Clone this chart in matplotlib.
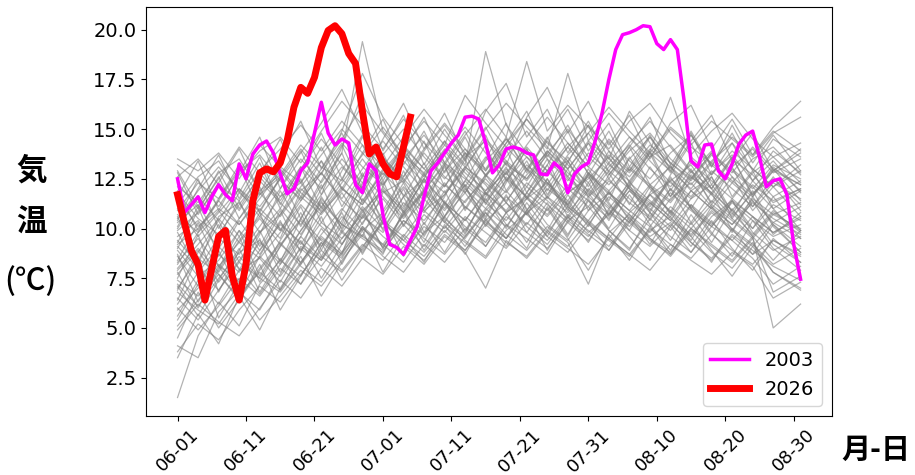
import numpy as np
import matplotlib.pyplot as plt

plt.rcParams['font.family'] = ['DejaVu Sans', 'Noto Sans CJK JP']

# day offsets from 06-01 (06-01 .. 08-31)
days = np.arange(92)
gray_days = list(range(0, 90, 3)) + [91]
tick_days = list(range(0, 91, 10))
tick_labels = ['06-01', '06-11', '06-21', '07-01', '07-11',
               '07-21', '07-31', '08-10', '08-20', '08-30']

# past years (read coarsely, every 3 days)
past_years = [
    [7.2, 6.1, 7.5, 8.8, 9.4, 8.2, 9.9, 11.5, 10.2, 9.6, 11.8, 12.4, 10.9, 11.7, 13.1, 12.2, 10.8, 11.5, 12.9, 13.4, 11.6, 10.7, 12.1, 11.3, 10.4, 11.9, 12.6, 10.8, 9.7, 10.9, 9.8],
    [10.3, 11.2, 9.5, 8.7, 10.1, 11.6, 12.3, 10.8, 11.9, 13.5, 12.1, 11.0, 12.7, 13.9, 12.6, 11.4, 12.8, 14.1, 12.9, 11.8, 12.5, 13.6, 12.0, 11.1, 12.4, 13.2, 11.7, 10.6, 11.8, 12.5, 11.2],
    [5.6, 7.4, 6.2, 7.9, 8.5, 7.3, 9.1, 8.4, 10.2, 9.5, 8.8, 10.4, 9.7, 11.2, 10.1, 9.3, 10.8, 11.6, 10.2, 9.4, 10.9, 11.8, 10.5, 9.6, 10.3, 9.1, 10.6, 11.4, 9.8, 8.9, 9.6],
    [12.1, 11.3, 12.8, 13.5, 11.9, 12.7, 14.2, 13.1, 12.4, 14.6, 13.2, 12.3, 13.8, 12.6, 11.8, 13.4, 14.5, 13.0, 12.2, 13.7, 14.8, 13.3, 12.1, 13.6, 14.2, 12.9, 12.0, 13.5, 12.7, 11.6, 12.4],
    [1.5, 4.6, 6.3, 5.1, 7.2, 8.4, 7.6, 9.3, 8.5, 10.1, 9.2, 8.3, 9.8, 10.6, 9.4, 8.6, 10.2, 9.5, 8.7, 10.4, 11.1, 9.9, 9.0, 10.5, 9.6, 8.8, 10.1, 9.4, 8.5, 7.2, 8.1],
    [9.4, 8.2, 10.6, 11.3, 9.8, 10.7, 12.1, 13.4, 12.0, 11.2, 12.9, 14.1, 13.0, 12.1, 13.6, 14.4, 13.2, 12.5, 13.9, 12.8, 11.9, 13.3, 14.6, 13.4, 12.3, 11.5, 12.8, 13.7, 12.4, 11.3, 12.0],
    [6.8, 5.9, 5.2, 6.7, 7.8, 6.9, 8.3, 9.6, 8.7, 10.3, 11.5, 10.2, 9.1, 10.6, 11.8, 10.4, 9.5, 10.9, 12.2, 11.0, 9.8, 10.7, 11.9, 10.8, 9.9, 11.2, 10.3, 9.4, 10.6, 9.2, 8.3],
    [11.2, 12.6, 13.4, 11.8, 10.9, 12.5, 11.4, 12.8, 14.3, 13.1, 12.2, 13.5, 14.7, 13.3, 12.5, 11.7, 13.0, 12.1, 13.8, 15.0, 13.6, 12.7, 13.9, 14.8, 13.5, 12.6, 11.8, 13.1, 14.0, 12.8, 13.5],
    [8.3, 9.5, 8.1, 7.4, 8.9, 10.2, 9.3, 8.4, 9.8, 11.1, 10.0, 11.6, 12.5, 11.3, 10.4, 11.9, 12.8, 11.5, 10.6, 11.8, 12.6, 11.2, 10.3, 11.7, 12.4, 11.0, 10.1, 11.3, 10.4, 9.6, 10.2],
    [4.1, 3.5, 5.8, 6.9, 5.4, 6.6, 7.9, 7.1, 8.4, 9.7, 8.6, 7.8, 9.2, 8.3, 9.6, 10.8, 9.7, 8.9, 10.1, 9.3, 7.2, 9.8, 10.7, 9.5, 8.6, 9.9, 8.8, 8.0, 9.3, 7.8, 6.9],
    [10.7, 9.8, 11.4, 12.9, 13.7, 12.4, 11.5, 13.0, 14.5, 16.2, 14.8, 13.4, 12.3, 13.9, 15.1, 13.8, 12.7, 14.2, 15.6, 14.3, 13.1, 14.5, 13.4, 12.5, 13.8, 14.7, 13.2, 12.3, 13.5, 14.1, 12.7],
    [7.7, 8.9, 7.3, 8.6, 7.5, 9.1, 10.5, 9.4, 8.6, 10.0, 9.2, 10.7, 11.8, 10.5, 9.6, 11.0, 10.1, 11.5, 12.3, 11.1, 10.2, 11.6, 10.7, 9.8, 11.1, 10.2, 11.4, 10.5, 9.6, 10.8, 9.9],
    [13.2, 12.4, 11.1, 12.7, 13.9, 14.6, 13.3, 14.9, 16.4, 15.2, 14.0, 15.5, 14.3, 13.2, 14.7, 16.0, 14.6, 18.4, 14.9, 16.2, 15.1, 14.0, 15.4, 16.3, 14.8, 13.7, 14.9, 15.8, 14.5, 13.6, 14.3],
    [6.2, 7.8, 9.1, 8.0, 6.7, 8.2, 9.6, 8.5, 9.9, 8.8, 10.3, 9.4, 8.6, 9.9, 8.9, 10.4, 11.3, 10.1, 9.2, 10.6, 9.7, 8.9, 10.3, 9.4, 8.7, 10.0, 9.1, 8.3, 9.5, 6.8, 7.6],
    [9.9, 10.8, 12.2, 10.9, 12.4, 11.3, 10.2, 11.7, 13.1, 12.0, 13.4, 12.5, 11.4, 12.9, 14.0, 12.7, 13.6, 14.9, 13.5, 12.4, 13.8, 12.9, 14.3, 15.4, 14.1, 12.8, 13.9, 12.6, 11.7, 12.9, 13.8],
    [3.8, 5.2, 4.4, 5.9, 7.1, 6.3, 7.7, 8.9, 7.9, 9.2, 8.4, 9.7, 8.8, 10.1, 9.3, 8.5, 9.9, 10.8, 9.6, 8.8, 10.2, 9.4, 8.6, 9.9, 10.6, 9.3, 8.5, 9.7, 8.9, 8.1, 7.4],
    [11.8, 10.5, 9.7, 11.2, 12.6, 11.4, 13.0, 14.5, 13.2, 12.0, 13.6, 12.4, 13.9, 15.2, 13.8, 12.7, 14.1, 13.0, 14.4, 13.2, 12.3, 13.7, 12.8, 14.0, 13.1, 12.2, 13.4, 14.3, 13.0, 12.1, 12.9],
    [8.9, 7.6, 8.4, 9.9, 8.7, 10.3, 9.2, 10.8, 12.1, 10.9, 11.9, 10.6, 12.0, 11.0, 12.4, 11.3, 10.4, 11.8, 10.9, 12.2, 11.4, 10.5, 11.9, 11.0, 10.1, 11.5, 12.2, 10.9, 10.0, 11.2, 10.4],
    [5.1, 6.4, 7.7, 6.5, 8.0, 9.3, 8.1, 7.3, 8.8, 10.0, 9.1, 10.4, 9.5, 8.7, 10.0, 9.1, 10.6, 9.8, 9.0, 10.3, 9.4, 10.8, 9.9, 9.1, 10.2, 9.3, 8.4, 9.6, 8.7, 9.4, 8.6],
    [12.6, 13.5, 12.2, 11.4, 12.9, 14.0, 15.2, 13.9, 15.4, 14.2, 13.1, 14.6, 16.0, 14.7, 13.5, 15.0, 16.3, 15.1, 14.0, 17.8, 14.4, 15.8, 14.6, 13.6, 15.0, 14.1, 13.3, 14.6, 13.7, 14.9, 13.9],
    [7.4, 6.6, 8.1, 9.3, 10.5, 9.2, 8.3, 9.7, 11.0, 9.9, 10.8, 12.1, 10.9, 10.0, 11.4, 12.5, 11.3, 10.2, 11.6, 10.8, 12.0, 11.1, 10.3, 11.7, 10.9, 10.0, 11.2, 10.4, 9.5, 10.7, 11.3],
    [9.1, 8.0, 6.9, 8.4, 9.8, 11.0, 9.7, 11.3, 10.2, 12.7, 11.6, 10.5, 11.9, 13.2, 12.0, 11.0, 12.4, 13.6, 12.3, 11.2, 12.7, 11.8, 10.9, 12.2, 13.1, 11.9, 11.0, 12.3, 11.4, 10.3, 11.1],
    [10.0, 11.6, 10.4, 12.0, 10.8, 9.9, 11.4, 12.8, 11.5, 13.0, 14.4, 13.1, 11.9, 13.3, 12.1, 13.6, 12.5, 11.6, 12.9, 14.1, 12.8, 11.7, 13.0, 12.1, 11.3, 12.6, 11.7, 13.0, 12.1, 11.0, 11.9],
    [4.9, 6.2, 5.3, 4.6, 6.0, 7.4, 6.5, 8.0, 7.1, 8.5, 7.7, 9.1, 8.2, 9.6, 8.8, 7.0, 9.4, 8.5, 9.8, 9.0, 8.2, 9.5, 8.7, 7.9, 9.2, 8.4, 7.7, 8.8, 8.1, 6.5, 7.3],
    [11.5, 10.1, 11.0, 10.2, 11.7, 13.0, 11.8, 10.9, 12.3, 13.7, 15.1, 13.7, 12.6, 14.0, 12.8, 11.9, 13.3, 12.4, 13.7, 12.6, 11.7, 13.1, 14.2, 13.0, 12.1, 13.3, 12.4, 11.5, 12.8, 13.6, 12.3],
    [8.0, 9.2, 10.5, 9.3, 8.5, 9.8, 11.2, 10.1, 9.2, 10.6, 9.8, 11.3, 10.4, 11.7, 13.0, 11.8, 10.8, 12.1, 11.2, 10.3, 11.6, 12.5, 11.3, 10.5, 11.8, 10.9, 10.1, 11.4, 10.6, 9.8, 10.5],
    [6.5, 5.4, 6.9, 8.3, 7.5, 6.8, 8.2, 9.5, 8.7, 11.5, 10.3, 9.4, 10.7, 9.8, 11.1, 10.3, 9.5, 10.8, 11.6, 10.4, 9.6, 10.9, 10.1, 11.3, 10.4, 9.6, 10.8, 9.9, 9.1, 10.3, 9.5],
    [13.5, 12.9, 13.8, 12.5, 14.2, 13.1, 12.3, 13.7, 15.0, 13.8, 12.7, 14.1, 15.4, 14.2, 16.7, 15.3, 14.1, 15.5, 14.3, 13.4, 14.8, 16.1, 14.9, 13.8, 15.1, 14.2, 15.4, 14.5, 13.6, 14.8, 15.6],
    [9.6, 10.4, 9.0, 10.5, 11.8, 10.6, 12.0, 11.1, 12.5, 11.4, 12.8, 11.7, 10.8, 12.2, 11.3, 12.7, 11.8, 13.2, 12.3, 11.4, 12.8, 11.9, 13.1, 12.2, 11.4, 12.7, 11.8, 10.9, 12.2, 11.4, 12.0],
    [7.0, 8.5, 7.7, 6.4, 7.9, 9.2, 10.4, 9.1, 10.6, 9.6, 8.9, 10.2, 11.5, 10.3, 9.5, 10.9, 11.9, 10.7, 9.8, 11.1, 10.3, 9.5, 10.8, 11.7, 10.5, 9.7, 10.9, 10.0, 9.2, 8.2, 9.0],
    [10.9, 12.3, 11.5, 13.0, 11.7, 12.6, 14.0, 12.7, 14.9, 17.8, 15.6, 14.2, 13.0, 14.4, 13.2, 18.9, 15.2, 13.8, 12.9, 14.3, 13.1, 12.2, 13.5, 14.6, 13.3, 12.4, 13.7, 12.8, 14.1, 13.0, 12.2],
    [8.6, 7.1, 8.7, 7.8, 9.3, 8.4, 9.9, 11.1, 9.8, 8.9, 10.4, 9.6, 11.0, 12.3, 11.1, 10.2, 11.6, 10.7, 12.0, 11.2, 10.4, 11.8, 10.9, 10.1, 11.5, 12.3, 11.1, 10.2, 11.3, 10.5, 9.7],
    [12.3, 11.0, 12.5, 14.1, 12.8, 11.6, 13.1, 12.0, 13.5, 12.3, 13.7, 15.0, 13.6, 12.5, 13.8, 12.9, 14.3, 15.5, 14.1, 13.0, 14.4, 13.5, 12.6, 13.9, 16.6, 13.6, 12.7, 13.9, 13.0, 12.1, 13.2],
    [5.9, 7.0, 8.2, 7.3, 8.6, 7.6, 9.0, 8.1, 9.5, 10.7, 9.6, 8.8, 10.1, 9.3, 10.6, 9.8, 9.0, 10.3, 9.4, 10.7, 9.9, 9.1, 10.4, 9.5, 8.8, 10.0, 9.2, 8.4, 9.6, 5.0, 6.2],
    [9.2, 10.0, 11.4, 10.2, 11.5, 12.9, 11.6, 10.7, 12.0, 11.2, 12.6, 13.9, 12.7, 11.8, 13.1, 12.3, 11.4, 12.7, 13.8, 12.5, 11.6, 12.9, 12.0, 11.2, 12.5, 11.6, 12.9, 12.0, 11.1, 12.3, 11.5],
    [7.9, 9.0, 7.8, 9.4, 10.6, 9.5, 11.9, 12.8, 11.4, 10.5, 11.9, 10.9, 12.4, 11.3, 10.4, 11.8, 10.9, 12.3, 11.4, 10.5, 11.9, 11.0, 12.3, 11.4, 10.6, 11.9, 11.0, 10.2, 11.5, 10.7, 10.0],
    [11.0, 9.6, 10.8, 12.0, 11.1, 12.5, 13.8, 15.3, 17.0, 14.8, 13.5, 12.6, 14.0, 15.3, 14.0, 13.0, 14.5, 13.6, 12.7, 14.1, 15.2, 13.9, 12.9, 14.2, 13.3, 12.5, 13.8, 12.9, 12.0, 13.2, 12.5],
    [6.0, 4.9, 6.1, 7.5, 6.6, 8.0, 7.2, 8.6, 7.8, 9.1, 10.3, 9.2, 8.4, 9.7, 8.9, 10.2, 9.3, 8.6, 9.9, 9.1, 10.4, 9.5, 8.7, 10.0, 9.2, 8.5, 9.7, 8.9, 8.2, 9.4, 8.7],
    [10.5, 11.9, 13.1, 11.9, 10.6, 12.0, 13.5, 12.3, 13.8, 19.4, 14.9, 13.7, 12.8, 14.2, 13.1, 14.5, 13.4, 12.5, 13.9, 13.0, 14.3, 13.2, 12.4, 13.8, 12.9, 12.0, 13.3, 12.4, 11.6, 12.9, 12.2],
    [8.2, 9.8, 10.9, 9.6, 11.0, 10.0, 8.9, 10.3, 9.5, 10.8, 12.0, 10.8, 11.9, 10.9, 12.2, 11.3, 12.6, 11.6, 10.7, 12.0, 11.1, 12.4, 11.5, 10.6, 12.0, 11.1, 10.2, 11.5, 10.6, 9.8, 10.6],
    [9.8, 7.9, 9.6, 11.4, 9.1, 10.9, 8.8, 11.6, 10.0, 12.3, 10.4, 12.9, 11.0, 13.2, 10.9, 12.6, 14.0, 11.8, 13.5, 11.2, 13.0, 11.4, 13.6, 12.0, 10.8, 12.9, 11.3, 13.1, 11.1, 12.6, 10.9],
    [7.5, 9.7, 6.8, 8.9, 10.8, 8.3, 10.5, 12.2, 9.9, 11.7, 13.6, 11.1, 12.8, 10.6, 12.4, 14.2, 11.9, 13.4, 11.5, 13.0, 10.9, 12.7, 14.1, 12.2, 10.7, 12.5, 13.8, 11.6, 12.9, 11.0, 9.5],
    [10.6, 8.4, 10.2, 7.9, 9.7, 11.9, 10.1, 12.0, 13.8, 11.3, 13.0, 10.8, 12.5, 14.4, 12.1, 10.5, 12.3, 14.0, 11.7, 13.3, 15.2, 12.8, 11.2, 13.1, 11.6, 13.5, 12.0, 10.7, 12.4, 13.4, 11.8],
    [6.4, 8.6, 5.5, 7.3, 9.5, 6.9, 8.8, 10.6, 8.2, 10.1, 8.7, 10.9, 9.3, 11.4, 9.7, 11.8, 10.2, 9.0, 11.1, 9.6, 11.5, 9.9, 8.9, 10.8, 9.4, 11.2, 9.8, 8.6, 10.4, 9.0, 7.9],
    [11.6, 13.4, 10.9, 12.8, 14.6, 12.0, 13.9, 11.7, 14.1, 16.8, 13.9, 15.7, 13.2, 15.0, 13.4, 15.9, 17.3, 14.6, 16.0, 13.8, 15.4, 13.5, 15.9, 14.3, 12.8, 14.9, 13.1, 15.2, 13.3, 14.7, 12.9],
    [8.7, 6.3, 8.0, 9.9, 7.6, 9.4, 11.1, 8.9, 10.9, 12.6, 10.2, 12.0, 9.8, 11.6, 13.5, 11.2, 12.9, 10.7, 12.5, 10.9, 12.8, 11.3, 9.9, 11.8, 13.2, 11.0, 12.6, 10.5, 11.9, 10.1, 8.8],
    [3.5, 5.7, 4.2, 6.6, 4.9, 7.0, 8.6, 6.6, 8.3, 9.9, 7.8, 9.6, 8.3, 10.2, 8.7, 10.5, 9.1, 10.9, 8.9, 10.6, 9.3, 11.0, 9.6, 8.4, 10.1, 8.8, 10.4, 9.0, 7.9, 9.5, 8.3],
    [12.8, 10.7, 12.3, 14.0, 11.8, 13.6, 15.4, 13.0, 14.8, 12.6, 14.5, 16.3, 14.0, 15.8, 13.6, 15.1, 13.2, 15.6, 17.1, 14.8, 16.4, 14.2, 15.7, 13.5, 15.3, 16.2, 14.0, 15.5, 13.7, 15.1, 16.4],
    [9.3, 11.1, 8.6, 10.4, 8.9, 10.7, 12.5, 10.3, 11.8, 10.2, 12.1, 13.9, 11.5, 13.1, 11.0, 12.7, 11.3, 13.0, 11.6, 13.4, 11.8, 10.4, 12.2, 13.8, 11.6, 13.0, 11.2, 12.6, 10.9, 12.1, 10.6],
    [5.4, 7.2, 8.9, 6.8, 5.9, 7.7, 9.4, 7.5, 9.2, 11.0, 9.0, 10.8, 8.9, 10.6, 12.2, 10.1, 11.7, 9.8, 11.3, 9.7, 11.4, 10.0, 11.7, 10.2, 8.9, 10.7, 9.3, 11.0, 9.6, 8.4, 9.9],
    [10.1, 12.0, 13.7, 11.5, 13.3, 11.0, 12.9, 14.8, 12.5, 14.2, 12.2, 13.9, 15.6, 13.3, 14.9, 12.9, 14.6, 12.8, 14.5, 16.0, 13.9, 15.3, 13.1, 14.7, 12.9, 14.4, 15.7, 13.4, 14.8, 12.9, 14.0],
    [7.1, 5.6, 7.4, 9.0, 6.8, 8.5, 7.2, 9.1, 10.8, 8.7, 10.5, 12.3, 10.2, 11.9, 9.9, 11.5, 10.0, 11.8, 13.2, 11.1, 12.7, 10.6, 12.2, 10.4, 12.0, 10.3, 11.8, 9.9, 11.4, 9.7, 10.8],
    [11.9, 9.9, 11.5, 13.2, 10.8, 12.6, 10.5, 12.4, 14.2, 12.0, 13.8, 11.6, 13.3, 11.2, 13.0, 14.7, 12.4, 14.0, 11.9, 13.6, 12.1, 13.9, 12.0, 10.9, 12.7, 14.3, 12.2, 13.6, 11.7, 13.0, 11.4],
    [8.4, 10.3, 8.1, 6.7, 8.6, 10.4, 8.2, 10.0, 8.8, 10.6, 12.4, 10.1, 11.9, 10.3, 12.0, 10.6, 12.5, 11.0, 9.6, 11.4, 10.1, 11.9, 10.4, 12.1, 10.8, 9.4, 11.1, 9.8, 11.6, 10.2, 9.1],
    [6.9, 8.8, 10.4, 8.3, 9.9, 7.8, 9.6, 11.4, 9.2, 10.9, 9.0, 10.7, 12.5, 10.4, 9.1, 10.8, 9.5, 11.3, 9.9, 11.7, 10.3, 8.9, 10.6, 9.2, 10.9, 9.6, 8.3, 10.0, 8.7, 10.2, 8.8],
    [10.4, 12.5, 10.0, 11.8, 13.6, 11.2, 13.1, 11.0, 12.9, 14.7, 12.4, 14.2, 12.0, 13.7, 11.8, 13.5, 15.3, 12.9, 14.6, 12.6, 14.3, 12.5, 14.1, 15.6, 13.2, 14.8, 12.7, 14.3, 12.4, 13.9, 12.8],
    [4.5, 6.8, 5.0, 6.4, 8.2, 5.9, 7.6, 9.3, 7.4, 9.0, 10.7, 8.6, 10.3, 8.8, 10.5, 9.1, 10.8, 9.3, 11.0, 9.5, 7.9, 9.7, 8.4, 10.1, 8.7, 10.3, 8.9, 7.6, 9.1, 7.8, 7.0],
    [9.0, 10.9, 12.6, 10.5, 12.1, 9.9, 11.6, 13.4, 11.1, 12.8, 10.9, 12.6, 14.4, 12.1, 13.8, 11.7, 13.4, 11.5, 13.2, 14.9, 12.7, 14.4, 12.3, 13.9, 11.9, 13.5, 12.0, 13.6, 11.6, 13.1, 11.9],
    [7.8, 6.0, 7.9, 9.6, 7.3, 9.1, 10.8, 8.6, 10.4, 12.1, 9.9, 11.6, 9.6, 11.3, 9.8, 11.6, 13.1, 10.9, 12.5, 10.6, 12.3, 10.7, 12.4, 10.8, 12.6, 11.0, 9.7, 11.4, 10.0, 11.6, 9.9],
    [12.9, 11.1, 12.9, 11.0, 12.7, 14.5, 12.3, 14.1, 12.0, 13.8, 15.5, 13.2, 14.9, 12.8, 14.6, 12.6, 14.3, 15.9, 13.6, 15.2, 13.3, 14.9, 12.9, 14.6, 13.0, 14.7, 13.1, 14.8, 12.9, 14.5, 13.6],
]

temp_2003 = [12.5, 10.8, 11.2, 11.6, 10.8, 11.6, 12.2, 11.7, 11.4, 13.25,
             12.5, 13.75, 14.2, 14.4, 13.8, 12.75, 11.75, 12.0, 12.9, 13.3,
             14.8, 16.35, 14.8, 14.2, 14.5, 14.3, 12.2, 11.8, 13.25, 12.9,
             10.7, 9.2, 9.05, 8.7, 9.4, 10.1, 11.6, 12.9, 13.3, 13.8,
             14.3, 14.7, 15.6, 15.65, 15.5, 14.3, 12.8, 13.2, 14.0, 14.1,
             14.0, 13.8, 13.7, 12.75, 12.7, 13.3, 13.0, 11.8, 12.75, 13.1,
             13.3, 14.4, 15.8, 17.5, 19.0, 19.75, 19.85, 20.0, 20.2, 20.15,
             19.3, 19.0, 19.5, 19.0, 16.4, 13.4, 13.1, 14.2, 14.25, 12.9,
             12.5, 13.25, 14.25, 14.7, 14.9, 13.6, 12.1, 12.4, 12.5, 11.7,
             9.2, 7.45]

temp_2026 = [11.7, 10.3, 8.9, 8.2, 6.4, 8.0, 9.6, 9.9, 7.6, 6.4,
             8.2, 11.4, 12.8, 13.0, 12.85, 13.3, 14.4, 16.1, 17.1, 16.8,
             17.6, 19.1, 19.96, 20.2, 19.8, 18.8, 18.3, 15.9, 13.75, 14.1,
             13.25, 12.75, 12.6, 14.1, 15.6]

fig, ax = plt.subplots(figsize=(9.15, 4.75), dpi=100)
fig.subplots_adjust(left=0.160, right=0.909, bottom=0.124, top=0.985)

for yr in past_years:
    ax.plot(gray_days, yr, color='gray', lw=0.9, alpha=0.6)

ax.plot(days, temp_2003, color='magenta', lw=2.5, label='2003')
ax.plot(days[:len(temp_2026)], temp_2026, color='red', lw=5, label='2026')

ax.set_xticks(tick_days)
ax.set_xticklabels(tick_labels, rotation=45)
ax.tick_params(axis='y', labelsize=14)
ax.tick_params(axis='x', labelsize=13)

# vertical axis title, one character per line
cjk = ['Noto Sans CJK JP']
fig.text(0.034, 0.640, '気', fontsize=22, fontweight='bold', family=cjk,
         ha='center', va='center')
fig.text(0.034, 0.532, '温', fontsize=22, fontweight='bold', family=cjk,
         ha='center', va='center')
fig.text(0.033, 0.408, '(℃)', fontsize=22, fontweight='medium', family=cjk,
         ha='center', va='center')
fig.text(0.957, 0.053, '月-日', fontsize=21, fontweight='bold', family=cjk,
         ha='center', va='center')

ax.legend(loc='lower right', fontsize=14)

fig.savefig('out.png', dpi=100)
